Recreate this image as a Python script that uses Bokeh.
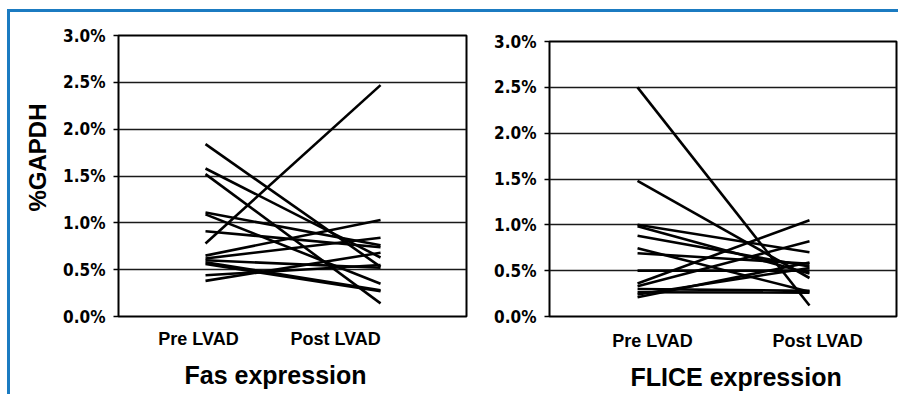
from bokeh.plotting import figure
from bokeh.layouts import row, column
from bokeh.models import FixedTicker, Title, PrintfTickFormatter, Range1d, Spacer
from bokeh.embed import file_html
from bokeh.resources import INLINE

# ---- data ----
groups = ["Pre LVAD", "Post LVAD"]
y_ticks = [0.0, 0.5, 1.0, 1.5, 2.0, 2.5, 3.0]

fas_pre = [0.78, 1.84, 1.58, 1.52, 1.11, 1.09, 0.91, 0.65, 0.62, 0.60, 0.58, 0.56, 0.44, 0.38]
fas_post = [2.47, 0.53, 0.63, 0.14, 0.76, 0.35, 0.74, 1.03, 0.84, 0.52, 0.28, 0.27, 0.55, 0.68]

flice_pre = [2.50, 1.48, 1.00, 0.985, 0.88, 0.745, 0.69, 0.50, 0.36, 0.33, 0.30, 0.265, 0.24, 0.21]
flice_post = [0.12, 0.42, 0.70, 0.47, 0.545, 0.27, 0.575, 0.50, 1.05, 0.82, 0.28, 0.26, 0.53, 0.59]

BLUE = "#1b7bc1"
TICK_FONT = "'DejaVu Sans Condensed', 'Liberation Sans', sans-serif"
LABEL_FONT = "Liberation Sans"


def panel(pre, post, title, fw, fh, x_start, x_end, label_shift, border,
          label_standoff, title_standoff, title_offset, ylabel=None):
    p = figure(frame_width=fw, frame_height=fh, output_backend="svg", toolbar_location=None,
               title=None,
               x_range=Range1d(x_start, x_end), y_range=Range1d(0, 3.0),
               min_border_left=border[0], min_border_right=border[1],
               min_border_top=border[2], min_border_bottom=border[3])
    xs = [[1, 2] for _ in pre]
    ys = [[a, b] for a, b in zip(pre, post)]
    p.multi_line(xs, ys, line_color="black", line_width=2.6)

    p.outline_line_color = "black"
    p.outline_line_width = 2
    p.xgrid.visible = False
    p.ygrid.ticker = FixedTicker(ticks=y_ticks)
    p.ygrid.grid_line_color = "#1a1a1a"
    p.ygrid.grid_line_width = 1.5

    ya = p.yaxis[0]
    ya.ticker = FixedTicker(ticks=y_ticks)
    ya.formatter = PrintfTickFormatter(format="%.1f%%")
    ya.major_label_text_font = TICK_FONT
    ya.major_label_text_font_style = "bold"
    ya.major_label_text_font_size = "17px"
    ya.major_label_text_color = "black"
    ya.major_tick_out = 5
    ya.major_tick_in = 0
    ya.major_tick_line_width = 1.5
    ya.major_tick_line_color = "black"
    ya.minor_tick_line_color = None
    ya.axis_line_color = None
    ya.major_label_standoff = 8

    xa = p.xaxis[0]
    pos = [round(i + 1 + s, 3) for i, s in enumerate(label_shift)]
    xa.ticker = FixedTicker(ticks=pos)
    xa.major_label_overrides = {v: g for v, g in zip(pos, groups)}
    xa.major_label_text_font = LABEL_FONT
    xa.major_label_text_font_style = "bold"
    xa.major_label_text_font_size = "18px"
    xa.major_label_text_color = "black"
    xa.major_label_standoff = label_standoff
    xa.major_tick_out = 0
    xa.major_tick_in = 0
    xa.minor_tick_line_color = None
    xa.axis_line_color = None

    p.add_layout(Title(text=title, align="left", offset=title_offset,
                       text_font=LABEL_FONT, text_font_style="bold", text_color="black",
                       text_font_size="25px", standoff=title_standoff), "below")
    if ylabel:
        p.add_layout(Title(text=ylabel, align="right", offset=68,
                           text_font=LABEL_FONT, text_font_style="bold", text_color="black",
                           text_font_size="24px", standoff=20), "left")
    return p


p1 = panel(fas_pre, fas_post, "Fas expression", 348, 281, 0.503, 2.491,
           [-7 / 175, -45 / 175], (108, 4, 23, 40), 12, 15, 66, ylabel="%GAPDH")
p2 = panel(flice_pre, flice_post, "FLICE expression", 347, 275, 0.488, 2.506,
           [15 / 172, 8 / 172], (79, 2, 23, 40), 14, 14, 81)

top_bar = Spacer(width=891, height=3, styles={"background-color": BLUE})
left_bar = Spacer(width=3, height=382, styles={"background-color": BLUE})

right_col = column(Spacer(width=428, height=6), p2)
layout = column(top_bar, row(left_bar, p1, right_col), margin=(9, 0, 0, 7))

open("out.html", "w").write(file_html(layout, INLINE))
